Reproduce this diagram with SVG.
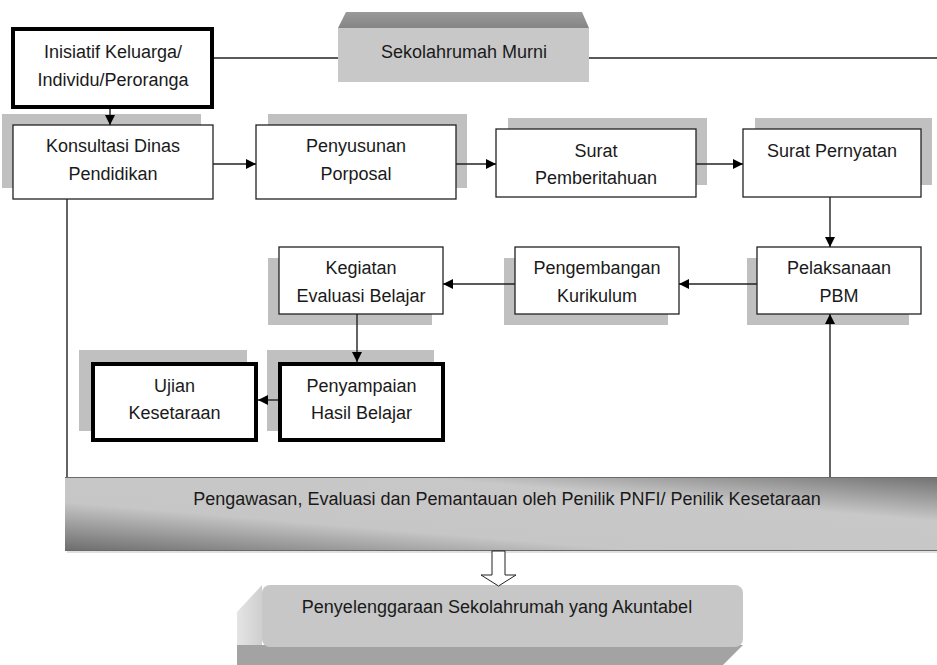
<svg xmlns="http://www.w3.org/2000/svg" width="937" height="665" viewBox="0 0 937 665">
<style>
text{font-family:"Liberation Sans",Arial,sans-serif;font-size:18px;fill:#1a1a1a;text-anchor:middle}
.box{fill:#fff;stroke:#222;stroke-width:1.3}
.thick{fill:#fff;stroke:#000;stroke-width:4}
.sh{fill:#c0c0c0}
.ln{fill:none;stroke:#222;stroke-width:1.4}
.ar{marker-end:url(#ah)}
</style>
<defs>
<marker id="ah" markerUnits="userSpaceOnUse" markerWidth="11" markerHeight="10" refX="10" refY="5" orient="auto">
<path d="M0,0 L10,5 L0,10 z" fill="#000"/>
</marker>
<linearGradient id="band" x1="0" y1="1" x2="1" y2="0">
<stop offset="0" stop-color="#6c6c6c"/>
<stop offset="0.33" stop-color="#c6c6c6"/>
<stop offset="0.7" stop-color="#c8c8c8"/>
<stop offset="1" stop-color="#727272"/>
</linearGradient>
<linearGradient id="topbev" x1="0" y1="0" x2="0" y2="1">
<stop offset="0" stop-color="#9a9a9a"/>
<stop offset="1" stop-color="#858585"/>
</linearGradient>
<linearGradient id="leftbev" x1="0" y1="0" x2="1" y2="0">
<stop offset="0" stop-color="#e4e4e4"/>
<stop offset="1" stop-color="#cfcfcf"/>
</linearGradient>
</defs>

<g id="sekolahrumah-murni">
<path d="M346,12 L582,12 L589,28 L338,28 z" fill="url(#topbev)"/>
<rect x="338" y="28" width="251" height="54" fill="#c8c8c8"/>
<text x="464" y="58">Sekolahrumah Murni</text>
</g>

<g id="inisiatif">
<rect class="thick" x="13" y="29" width="199" height="78"/>
<text x="113" y="58">Inisiatif Keluarga/</text>
<text x="113" y="86">Individu/Peroranga</text>
</g>

<g id="konsultasi">
<rect class="sh" x="2" y="114" width="199" height="74"/>
<rect class="box" x="13" y="125" width="200" height="74"/>
<text x="113" y="152">Konsultasi Dinas</text>
<text x="113" y="180">Pendidikan</text>
</g>

<g id="penyusunan">
<rect class="sh" x="268" y="114" width="199" height="74"/>
<rect class="box" x="256" y="125" width="200" height="74"/>
<text x="356" y="152">Penyusunan</text>
<text x="356" y="180">Porposal</text>
</g>

<g id="surat-pemberitahuan">
<rect class="sh" x="508" y="118" width="199" height="67"/>
<rect class="box" x="496" y="129" width="200" height="68"/>
<text x="596" y="157">Surat</text>
<text x="596" y="184">Pemberitahuan</text>
</g>

<g id="surat-pernyatan">
<rect class="sh" x="755" y="118" width="177" height="67"/>
<rect class="box" x="743" y="129" width="178" height="68"/>
<text x="832" y="157">Surat Pernyatan</text>
</g>

<g id="pelaksanaan">
<rect class="sh" x="747" y="258" width="162" height="67"/>
<rect class="box" x="757" y="247" width="164" height="67"/>
<text x="839" y="274">Pelaksanaan</text>
<text x="839" y="302">PBM</text>
</g>

<g id="pengembangan">
<rect class="sh" x="504" y="258" width="164" height="67"/>
<rect class="box" x="515" y="247" width="164" height="67"/>
<text x="597" y="274">Pengembangan</text>
<text x="597" y="302">Kurikulum</text>
</g>

<g id="kegiatan">
<rect class="sh" x="268" y="258" width="164" height="67"/>
<rect class="box" x="279" y="247" width="164" height="67"/>
<text x="361" y="274">Kegiatan</text>
<text x="361" y="302">Evaluasi Belajar</text>
</g>

<g id="penyampaian">
<rect class="sh" x="267" y="350" width="167" height="81"/>
<rect class="thick" x="280" y="364" width="163" height="76"/>
<text x="361.5" y="392">Penyampaian</text>
<text x="361.5" y="419">Hasil Belajar</text>
</g>

<g id="ujian">
<rect class="sh" x="79" y="350" width="168" height="81"/>
<rect class="thick" x="93" y="364" width="163" height="76"/>
<text x="174.5" y="392">Ujian</text>
<text x="174.5" y="419">Kesetaraan</text>
</g>

<g id="pengawasan">
<rect x="67" y="479" width="870" height="74" fill="#000" opacity="0.12"/>
<rect x="65" y="477" width="872" height="74" fill="url(#band)"/>
<line x1="65" y1="477.5" x2="937" y2="477.5" stroke="#6a6a6a" stroke-width="1.2"/>
<line x1="65" y1="550.5" x2="937" y2="550.5" stroke="#6a6a6a" stroke-width="1"/>
<text x="507" y="505">Pengawasan, Evaluasi dan Pemantauan oleh Penilik PNFI/ Penilik Kesetaraan</text>
</g>

<g id="penyelenggaraan">
<path d="M237,612 L262,585 L262,665 L237,665 z" fill="url(#leftbev)"/>
<path d="M237,645 L743,645 L723,665 L237,665 z" fill="#a3a3a3"/>
<rect x="262" y="585" width="481" height="62" rx="8" fill="#c7c7c7"/>
<text x="497" y="613">Penyelenggaraan Sekolahrumah yang Akuntabel</text>
</g>

<g id="connectors">
<line class="ln" x1="214" y1="58" x2="338" y2="58"/>
<line class="ln" x1="589" y1="58" x2="937" y2="58"/>
<line class="ln ar" x1="110" y1="109" x2="110" y2="125"/>
<line class="ln ar" x1="213" y1="164" x2="256" y2="164"/>
<line class="ln ar" x1="456" y1="164" x2="496" y2="164"/>
<line class="ln ar" x1="696" y1="164" x2="743" y2="164"/>
<line class="ln ar" x1="830" y1="197" x2="830" y2="247"/>
<line class="ln ar" x1="757" y1="284" x2="679" y2="284"/>
<line class="ln ar" x1="515" y1="284" x2="443" y2="284"/>
<line class="ln ar" x1="357" y1="314" x2="357" y2="362"/>
<line class="ln ar" x1="278" y1="400" x2="258" y2="400"/>
<line class="ln ar" x1="830" y1="477" x2="830" y2="314"/>
<line class="ln" x1="67" y1="199" x2="67" y2="477"/>
<path d="M492,551 L505,551 L505,575 L516,575 L498.5,586 L481,575 L492,575 z" fill="#fff" stroke="#222" stroke-width="1"/>
</g>
</svg>
